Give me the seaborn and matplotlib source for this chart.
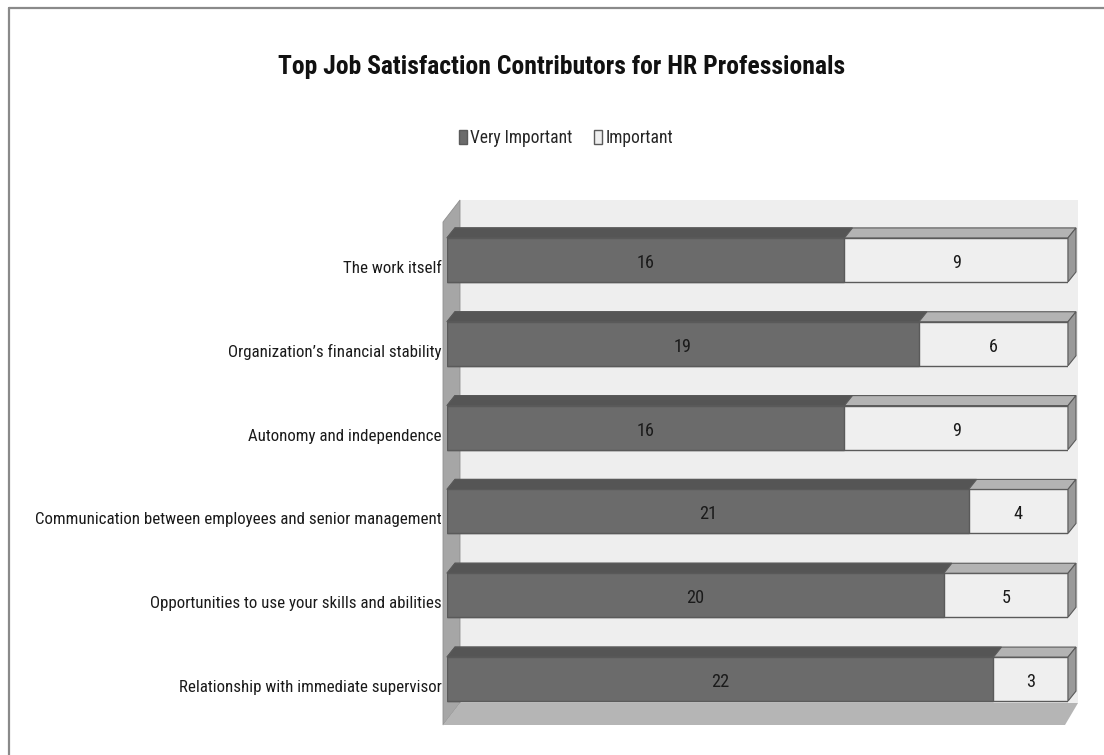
import numpy as np
import pandas as pd
import matplotlib
matplotlib.use("Agg")
import matplotlib.pyplot as plt
import seaborn as sns
from matplotlib.patches import Polygon, Patch
from matplotlib.lines import Line2D
from matplotlib.transforms import IdentityTransform, ScaledTranslation

categories = [
    "The work itself",
    "Organization\u2019s financial stability",
    "Autonomy and independence",
    "Communication between employees and senior management",
    "Opportunities to use your skills and abilities",
    "Relationship with immediate supervisor",
]
very_important = [16, 19, 16, 21, 20, 22]
important = [9, 6, 9, 4, 5, 3]
series_names = ["Very Important", "Important"]
title = "Top Job Satisfaction Contributors for HR Professionals"

df = pd.DataFrame({"cat": categories, "vi": very_important, "imp": important})
df["total"] = df["vi"] + df["imp"]

sns.set_theme(style="white")
FAM = ["Noto Sans ExtraCondensed", "Noto Sans Condensed", "Liberation Sans Narrow",
       "Roboto Condensed", "Open Sans Condensed", "DejaVu Sans"]
plt.rcParams["font.family"] = FAM
plt.rcParams["font.stretch"] = "condensed"

W, H = 1104, 755
fig = plt.figure(figsize=(W / 100, H / 100), dpi=100)
fig.patch.set_facecolor("white")
renderer = fig.canvas.get_renderer()


def fit_size(text, target_px, weight="normal", base=20.0):
    t = fig.text(0, 0, text, fontsize=base, fontweight=weight)
    w = t.get_window_extent(renderer).width
    t.remove()
    return base * target_px / w


title_fs = fit_size(title, 565, weight="bold")
label_fs = fit_size(categories[3], 406)
legend_fs = fit_size(series_names[0], 102)
value_fs = label_fs * 1.08

ax_left, ax_right, ax_top, ax_bot = 447, 1068, 218, 721
ax = fig.add_axes([ax_left / W, (H - ax_bot) / H, (ax_right - ax_left) / W, (ax_bot - ax_top) / H])
ax.patch.set_visible(False)

dark = "#6b6b6b"
dark_top = "#555555"
light = "#efefef"
light_top = "#b3b3b3"
light_side = "#9a9a9a"
edge = "#5a5a5a"

sns.barplot(data=df, y="cat", x="total", color=light, orient="h", width=0.525,
            saturation=1, edgecolor=edge, linewidth=1.0, ax=ax, zorder=2)
sns.barplot(data=df, y="cat", x="vi", color=dark, orient="h", width=0.525,
            saturation=1, edgecolor=edge, linewidth=1.0, ax=ax, zorder=3)
ax.set_xlim(0, 25)
ax.set_ylim(5.5, -0.5)
ax.set_xlabel("")
ax.set_ylabel("")
ax.set_xticks([])
for s in ax.spines.values():
    s.set_visible(False)
ax.tick_params(axis="y", length=0, pad=4, labelsize=label_fs, labelcolor="#1a1a1a")
shift = ScaledTranslation(0, -7 / 100, fig.dpi_scale_trans)
for lab in ax.get_yticklabels():
    lab.set_transform(lab.get_transform() + shift)

ident = IdentityTransform()


def img(x, y):
    return (x, H - y)


# walls (decoration)
back = Polygon([img(460, 200), img(1078, 200), img(1078, 703), img(460, 703)], closed=True,
               facecolor="#eeeeee", edgecolor="none", transform=ident, clip_on=False, zorder=0.1)
side = Polygon([img(443, 222), img(460, 200), img(460, 703), img(443, 725)], closed=True,
               facecolor="#a6a6a6", edgecolor="#8f8f8f", linewidth=0.6, transform=ident,
               clip_on=False, zorder=0.2)
floor = Polygon([img(443, 725), img(460, 703), img(1078, 703), img(1065, 725)], closed=True,
                facecolor="#b5b5b5", edgecolor="none", transform=ident, clip_on=False, zorder=0.2)
for p in (back, side, floor):
    ax.add_artist(p)

# 3D faces derived from the seaborn bars
dx, dy = 8, 10
n = len(categories)
bars = list(ax.patches)[:2 * n]
for i, p in enumerate(bars):
    x0, y0 = p.get_x(), p.get_y()
    x1, y1 = x0 + p.get_width(), y0 + p.get_height()
    (X0, Ya), (X1, Yb) = ax.transData.transform([(x0, y0), (x1, y1)])
    Ytop, Ybot = max(Ya, Yb), min(Ya, Yb)
    is_total = i < n
    topc = light_top if is_total else dark_top
    z = 2.5 if is_total else 3.5
    ax.add_artist(Polygon([(X0, Ytop), (X1, Ytop), (X1 + dx, Ytop + dy), (X0 + dx, Ytop + dy)],
                          closed=True, facecolor=topc, edgecolor=edge, linewidth=0.8,
                          transform=ident, clip_on=False, zorder=z))
    if is_total:
        ax.add_artist(Polygon([(X1, Ybot), (X1, Ytop), (X1 + dx, Ytop + dy), (X1 + dx, Ybot + dy)],
                              closed=True, facecolor=light_side, edgecolor=edge, linewidth=0.8,
                              transform=ident, clip_on=False, zorder=z))

# value labels
vshift = ScaledTranslation(0, -3 / 100, fig.dpi_scale_trans)
for i in range(n):
    ax.text(very_important[i] / 2, i, str(very_important[i]), ha="center", va="center",
            fontsize=value_fs, color="#1a1a1a", zorder=5, transform=ax.transData + vshift)
    ax.text(very_important[i] + important[i] / 2, i, str(important[i]), ha="center", va="center",
            fontsize=value_fs, color="#1a1a1a", zorder=5, transform=ax.transData + vshift)

# title and legend
fig.text(562 / W, 1 - 67 / H, title, ha="center", va="center", fontsize=title_fs,
         fontweight="bold", color="#111111")
handles = [Patch(facecolor=dark, edgecolor=edge, label=series_names[0]),
           Patch(facecolor=light, edgecolor=edge, label=series_names[1])]
fig.legend(handles=handles, loc="center", bbox_to_anchor=(566 / W, 1 - 138 / H), ncol=2,
           frameon=False, fontsize=legend_fs, handlelength=0.45, handleheight=0.8,
           handletextpad=0.2, columnspacing=1.2)

# outer border (top and left)
fig.add_artist(Line2D([9 / W, 1], [1 - 8 / H, 1 - 8 / H], transform=fig.transFigure,
                      color="#8a8a8a", linewidth=1.6))
fig.add_artist(Line2D([9 / W, 9 / W], [0, 1 - 8 / H], transform=fig.transFigure,
                      color="#8a8a8a", linewidth=1.6))

fig.savefig("out.png", dpi=100)
